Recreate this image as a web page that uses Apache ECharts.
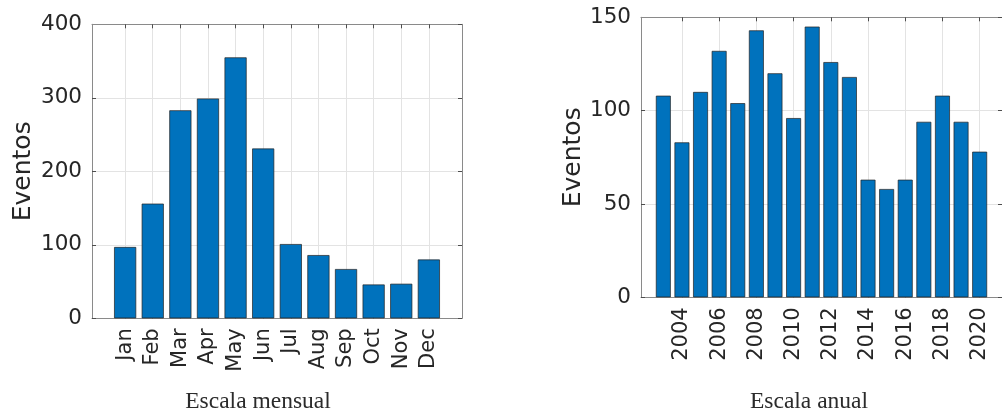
<!DOCTYPE html>
<html>
<head>
<meta charset="utf-8">
<script src="https://cdn.jsdelivr.net/npm/echarts@6/dist/echarts.min.js"></script>
<style>
  html, body { margin: 0; padding: 0; background: #fff; }
  #chart { width: 1002px; height: 413px; }
</style>
</head>
<body>
<div id="chart"></div>
<script>
// Monthly totals
const months = ['Jan', 'Feb', 'Mar', 'Apr', 'May', 'Jun', 'Jul', 'Aug', 'Sep', 'Oct', 'Nov', 'Dec'];
const monthlyEvents = [97, 156, 283, 299, 355, 231, 101, 86, 67, 46, 47, 80];
const monthlyYTicks = [0, 100, 200, 300, 400];

// Annual totals
const years = [2003, 2004, 2005, 2006, 2007, 2008, 2009, 2010, 2011, 2012,
               2013, 2014, 2015, 2016, 2017, 2018, 2019, 2020];
const annualEvents = [108, 83, 110, 132, 104, 143, 120, 96, 145, 126,
                      118, 63, 58, 63, 94, 108, 94, 78];
const yearTicks = [2004, 2006, 2008, 2010, 2012, 2014, 2016, 2018, 2020];
const annualYTicks = [0, 50, 100, 150];

const yLabel = 'Eventos';
const captions = ['Escala mensual', 'Escala anual'];

const BAR = '#0072BD';
const FRAME = '#8a8a8a';
const TICK = '#4d4d4d';
const GRID = '#e3e3e3';
const TEXT = '#262626';
const SANS = 'DejaVu Sans';

const monthPos = months.map((_, i) => i + 1);

// Bottom axis: labels, grid lines (drawn beneath the bars)
function bottomAxis(grid, min, max, ticks, fmt) {
  return {
    type: 'value', gridIndex: grid, position: 'bottom', min: min, max: max,
    axisLine: { show: true, onZero: false, lineStyle: { color: FRAME, width: 1 } },
    axisTick: { show: true, inside: true, length: 4, customValues: ticks, lineStyle: { color: TICK } },
    axisLabel: { show: true, customValues: ticks, formatter: fmt, rotate: 90, margin: 10,
                 fontFamily: SANS, fontSize: 21, color: TEXT },
    splitLine: { show: true, lineStyle: { color: GRID, width: 1 } }
  };
}
// Top axis: box edge with inward ticks, drawn above the bars
function topAxis(grid, min, max, ticks) {
  return {
    type: 'value', gridIndex: grid, position: 'top', min: min, max: max, z: 3,
    axisLine: { show: true, onZero: false, lineStyle: { color: FRAME, width: 1 } },
    axisTick: { show: true, inside: true, length: 4, customValues: ticks, lineStyle: { color: TICK } },
    axisLabel: { show: false },
    splitLine: { show: false }
  };
}
function leftAxis(grid, ticks, gap) {
  return {
    type: 'value', gridIndex: grid, position: 'left',
    min: ticks[0], max: ticks[ticks.length - 1], interval: ticks[1] - ticks[0],
    axisLine: { show: true, onZero: false, lineStyle: { color: FRAME, width: 1 } },
    axisTick: { show: true, inside: true, length: 4, lineStyle: { color: TICK } },
    axisLabel: { show: true, margin: 10, fontFamily: SANS, fontSize: 21.5, color: TEXT },
    splitLine: { show: true, lineStyle: { color: GRID, width: 1 } },
    name: yLabel, nameLocation: 'middle', nameGap: gap,
    nameTextStyle: { fontFamily: SANS, fontSize: 25, color: TEXT }
  };
}
function rightAxis(grid, ticks) {
  return {
    type: 'value', gridIndex: grid, position: 'right', z: 3,
    min: ticks[0], max: ticks[ticks.length - 1], interval: ticks[1] - ticks[0],
    axisLine: { show: true, onZero: false, lineStyle: { color: FRAME, width: 1 } },
    axisTick: { show: true, inside: true, length: 4, lineStyle: { color: TICK } },
    axisLabel: { show: false },
    splitLine: { show: false }
  };
}

const chart = echarts.init(document.getElementById('chart'), null, { renderer: 'canvas' });

chart.setOption({
  animation: false,
  backgroundColor: '#ffffff',
  grid: [
    { left: 92, top: 24.3, width: 370, height: 294, containLabel: false },
    { left: 641, top: 17.3, width: 366, height: 280, containLabel: false }
  ],
  xAxis: [
    bottomAxis(0, -0.2, 13.2, monthPos, v => months[Math.round(v) - 1]),
    topAxis(0, -0.2, 13.2, monthPos),
    bottomAxis(1, 2001.8, 2021.2, yearTicks, v => String(v)),
    topAxis(1, 2001.8, 2021.2, yearTicks)
  ],
  yAxis: [
    leftAxis(0, monthlyYTicks, 56),
    rightAxis(0, monthlyYTicks),
    leftAxis(1, annualYTicks, 55),
    rightAxis(1, annualYTicks)
  ],
  series: [
    {
      type: 'bar', xAxisIndex: 0, yAxisIndex: 0, barWidth: '80%',
      data: monthlyEvents.map((v, i) => [monthPos[i], v]),
      itemStyle: { color: BAR, borderColor: '#222222', borderWidth: 0.7 }
    },
    {
      type: 'bar', xAxisIndex: 2, yAxisIndex: 2, barWidth: '80%',
      data: annualEvents.map((v, i) => [years[i], v]),
      itemStyle: { color: BAR, borderColor: '#222222', borderWidth: 0.7 }
    }
  ],
  graphic: [
    { type: 'text', x: 258, y: 401.5,
      style: { text: captions[0], font: '23.5px "Liberation Serif"', fill: '#2b2b2b',
               textAlign: 'center', textVerticalAlign: 'middle' } },
    { type: 'text', x: 809, y: 401.5,
      style: { text: captions[1], font: '23.5px "Liberation Serif"', fill: '#2b2b2b',
               textAlign: 'center', textVerticalAlign: 'middle' } }
  ]
});
</script>
</body>
</html>
